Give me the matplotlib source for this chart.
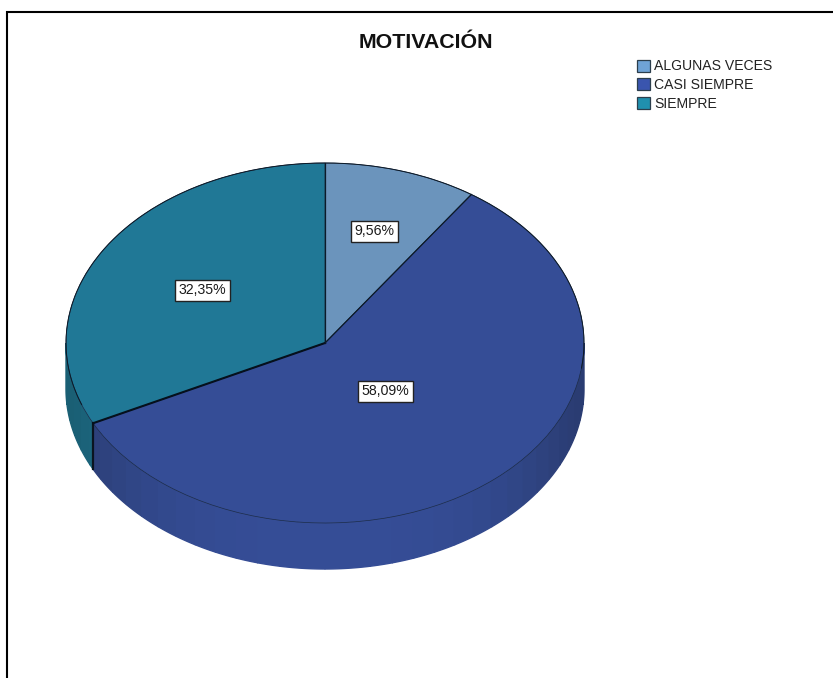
import numpy as np
import matplotlib
matplotlib.use('Agg')
import matplotlib.pyplot as plt
from matplotlib.patches import Patch

plt.rcParams['font.family'] = ['Liberation Sans', 'DejaVu Sans']

categories = ['ALGUNAS VECES', 'CASI SIEMPRE', 'SIEMPRE']
percent = [9.56, 58.09, 32.35]
top_colors = ['#6b94bc', '#354d96', '#207896']
legend_colors = ['#6fa3d6', '#3a55ae', '#2090ae']
side_dark = ['#4a6a88', '#2a3c72', '#1a5f74']
title = 'MOTIVACIÓN'

W, H = 833, 678
depth = 46 / 180  # height of the disc, in units of the vertical radius

fig = plt.figure(figsize=(W / 100, H / 100), dpi=100, facecolor='white')

# the disc is a normal pie squashed by giving it a non square axes
ax = fig.add_axes([66 / W, (H - 523) / H, 518 / W, 360 / H])
wedges, _ = ax.pie(percent, colors=top_colors, startangle=90, counterclock=False,
                   wedgeprops={'edgecolor': '#1c2c48', 'linewidth': 0.5, 'zorder': 5})
ax.set_aspect('auto')
ax.set_xlim(-1, 1)
ax.set_ylim(-1, 1)


def mix(c1, c2, f):
    a = np.array(matplotlib.colors.to_rgb(c1))
    b = np.array(matplotlib.colors.to_rgb(c2))
    return a + (b - a) * f


# side wall, only the part of each slice that faces the viewer
bands = np.arange(180, 361, 5)
for w, c, dark in zip(wedges, top_colors, side_dark):
    for offs in (0, 360):
        t1, t2 = w.theta1 + offs, w.theta2 + offs
        for b0, b1 in zip(bands[:-1], bands[1:]):
            lo, hi = max(t1, b0), min(t2, b1)
            if hi <= lo:
                continue
            t = np.radians(np.linspace(lo, hi, 12))
            x = np.cos(t)
            y = np.sin(t)
            shade = min(abs(np.cos(np.radians((b0 + b1) / 2))) ** 3 * 1.1, 1)
            col = mix(c, dark, shade)
            ax.fill(np.r_[x, x[::-1]], np.r_[y, y[::-1] - depth], facecolor=col,
                    edgecolor=col, lw=1.0, clip_on=False, zorder=2)

# black edge between the two big slices, on the top and down the wall
edge = np.radians(wedges[1].theta1)
ax.plot([np.cos(edge)] * 2, [np.sin(edge), np.sin(edge) - depth], color='#0a1420',
        lw=1.6, clip_on=False, zorder=6)
ax.plot([0, np.cos(edge)], [0, np.sin(edge)], color='#05101c', lw=1.5, zorder=6)

# thinner lines for the other two radii and the back of the rim
for th in (wedges[0].theta1, wedges[0].theta2):
    a = np.radians(th)
    ax.plot([0, np.cos(a)], [0, np.sin(a)], color='#0c1a28', lw=0.9, zorder=6)
rim = np.radians(np.linspace(-8, 200, 200))
ax.plot(np.cos(rim), np.sin(rim), color='#0c1a28', lw=0.7, clip_on=False, zorder=6)

# value boxes sit at a different radius in each slice
label_radius = [0.65, 0.355, 0.555]
for w, v, r in zip(wedges, percent, label_radius):
    mid = np.radians((w.theta1 + w.theta2) / 2)
    ax.text(r * np.cos(mid), r * np.sin(mid), f'{v:.2f}%'.replace('.', ','),
            ha='center', va='center', fontsize=10.2, color='#1a1a1a', zorder=8,
            bbox={'boxstyle': 'square,pad=0.26', 'fc': 'white', 'ec': '#222222', 'lw': 1.0})

# overlay in pixel units for the frame and title
over = fig.add_axes([0, 0, 1, 1], facecolor='none')
over.set_xlim(0, W)
over.set_ylim(H, 0)
over.axis('off')
over.plot([7, 7, W], [H, 12, 12], color='black', lw=1.5, solid_joinstyle='miter')
over.text(425.5, 42.5, title, ha='center', va='center', fontsize=15.4,
          fontweight='bold', color='#111111')

handles = [Patch(facecolor=c, edgecolor='#2c3e4c', linewidth=0.9) for c in legend_colors]
over.legend(handles, categories, loc='upper left', bbox_to_anchor=(637 / W, 1 - 59.5 / H),
            frameon=False, fontsize=10.1, handlelength=0.92, handleheight=0.97,
            handletextpad=0.3, labelspacing=0.33, borderpad=0, borderaxespad=0,
            labelcolor='#222222')

fig.savefig('out.png', dpi=100)
